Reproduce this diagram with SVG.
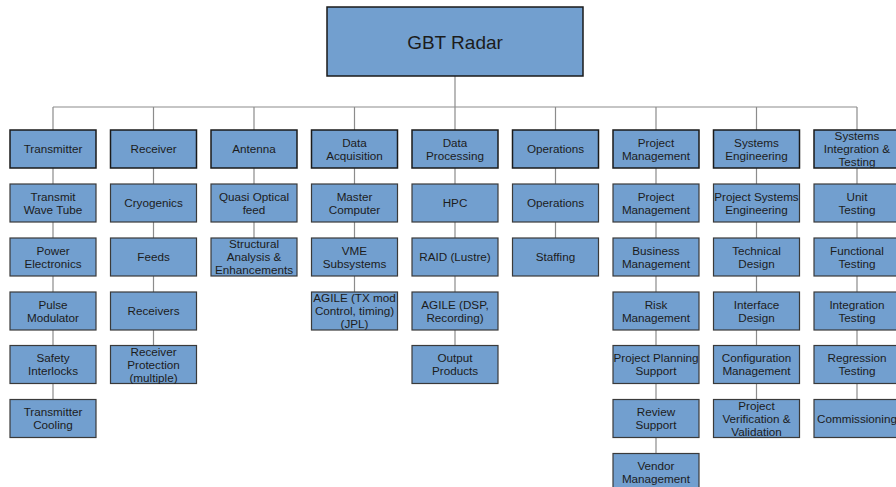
<svg xmlns="http://www.w3.org/2000/svg" width="896" height="487" viewBox="0 0 896 487">
<style>
.b{fill:#729fcf;stroke:#3a3a3a;stroke-width:1.2}
.h{fill:#729fcf;stroke:#1a1a1a;stroke-width:1.5}
text{font-family:"Liberation Sans",Arial,sans-serif;font-size:11.7px;fill:#1c1c1c;text-anchor:middle}
.r{font-size:19px}
.c{fill:none;stroke:#8c8c8c;stroke-width:1.2}
</style>
<rect width="896" height="487" fill="#fff"/>
<g id="connectors" class="c">
<path d="M455 76V107M53 107H857"/>
<path d="M53 107V399.5M153.5 107V345.5M254 107V238M354.5 107V292M455 107V345.5M555.5 107V238M656 107V453.5M756.5 107V399.5M857 107V399.5"/>
</g>
<g id="root"><rect class="h" x="327" y="7" width="256" height="69"/><text class="r" x="455" y="48.5">GBT Radar</text></g>

<g id="transmitter"><rect class="h" x="10" y="130" width="86" height="38"/><text x="53" y="153.2">Transmitter</text></g>
<g id="transmit-wave-tube"><rect class="b" x="10" y="184" width="86" height="38"/><text x="53" y="200.8">Transmit</text><text x="53" y="213.6">Wave Tube</text></g>
<g id="power-electronics"><rect class="b" x="10" y="238" width="86" height="38"/><text x="53" y="254.8">Power</text><text x="53" y="267.6">Electronics</text></g>
<g id="pulse-modulator"><rect class="b" x="10" y="292" width="86" height="38"/><text x="53" y="308.8">Pulse</text><text x="53" y="321.6">Modulator</text></g>
<g id="safety-interlocks"><rect class="b" x="10" y="345.5" width="86" height="38"/><text x="53" y="362.3">Safety</text><text x="53" y="375.1">Interlocks</text></g>
<g id="transmitter-cooling"><rect class="b" x="10" y="399.5" width="86" height="38"/><text x="53" y="416.3">Transmitter</text><text x="53" y="429.1">Cooling</text></g>

<g id="receiver"><rect class="h" x="110.5" y="130" width="86" height="38"/><text x="153.5" y="153.2">Receiver</text></g>
<g id="cryogenics"><rect class="b" x="110.5" y="184" width="86" height="38"/><text x="153.5" y="207.2">Cryogenics</text></g>
<g id="feeds"><rect class="b" x="110.5" y="238" width="86" height="38"/><text x="153.5" y="261.2">Feeds</text></g>
<g id="receivers"><rect class="b" x="110.5" y="292" width="86" height="38"/><text x="153.5" y="315.2">Receivers</text></g>
<g id="receiver-protection"><rect class="b" x="110.5" y="345.5" width="86" height="38"/><text x="153.5" y="355.9">Receiver</text><text x="153.5" y="368.7">Protection</text><text x="153.5" y="381.5">(multiple)</text></g>

<g id="antenna"><rect class="h" x="211" y="130" width="86" height="38"/><text x="254" y="153.2">Antenna</text></g>
<g id="quasi-optical-feed"><rect class="b" x="211" y="184" width="86" height="38"/><text x="254" y="200.8">Quasi Optical</text><text x="254" y="213.6">feed</text></g>
<g id="structural-analysis"><rect class="b" x="211" y="238" width="86" height="38"/><text x="254" y="248.4">Structural</text><text x="254" y="261.2">Analysis &amp;</text><text x="254" y="274">Enhancements</text></g>

<g id="data-acquisition"><rect class="h" x="311.5" y="130" width="86" height="38"/><text x="354.5" y="146.8">Data</text><text x="354.5" y="159.6">Acquisition</text></g>
<g id="master-computer"><rect class="b" x="311.5" y="184" width="86" height="38"/><text x="354.5" y="200.8">Master</text><text x="354.5" y="213.6">Computer</text></g>
<g id="vme-subsystems"><rect class="b" x="311.5" y="238" width="86" height="38"/><text x="354.5" y="254.8">VME</text><text x="354.5" y="267.6">Subsystems</text></g>
<g id="agile-tx"><rect class="b" x="311.5" y="292" width="86" height="38"/><text x="354.5" y="302.4">AGILE (TX mod</text><text x="354.5" y="315.2">Control, timing)</text><text x="354.5" y="328">(JPL)</text></g>

<g id="data-processing"><rect class="h" x="412" y="130" width="86" height="38"/><text x="455" y="146.8">Data</text><text x="455" y="159.6">Processing</text></g>
<g id="hpc"><rect class="b" x="412" y="184" width="86" height="38"/><text x="455" y="207.2">HPC</text></g>
<g id="raid"><rect class="b" x="412" y="238" width="86" height="38"/><text x="455" y="261.2">RAID (Lustre)</text></g>
<g id="agile-dsp"><rect class="b" x="412" y="292" width="86" height="38"/><text x="455" y="308.8">AGILE (DSP,</text><text x="455" y="321.6">Recording)</text></g>
<g id="output-products"><rect class="b" x="412" y="345.5" width="86" height="38"/><text x="455" y="362.3">Output</text><text x="455" y="375.1">Products</text></g>

<g id="operations"><rect class="h" x="512.5" y="130" width="86" height="38"/><text x="555.5" y="153.2">Operations</text></g>
<g id="operations-2"><rect class="b" x="512.5" y="184" width="86" height="38"/><text x="555.5" y="207.2">Operations</text></g>
<g id="staffing"><rect class="b" x="512.5" y="238" width="86" height="38"/><text x="555.5" y="261.2">Staffing</text></g>

<g id="project-management"><rect class="h" x="613" y="130" width="86" height="38"/><text x="656" y="146.8">Project</text><text x="656" y="159.6">Management</text></g>
<g id="project-management-2"><rect class="b" x="613" y="184" width="86" height="38"/><text x="656" y="200.8">Project</text><text x="656" y="213.6">Management</text></g>
<g id="business-management"><rect class="b" x="613" y="238" width="86" height="38"/><text x="656" y="254.8">Business</text><text x="656" y="267.6">Management</text></g>
<g id="risk-management"><rect class="b" x="613" y="292" width="86" height="38"/><text x="656" y="308.8">Risk</text><text x="656" y="321.6">Management</text></g>
<g id="project-planning"><rect class="b" x="613" y="345.5" width="86" height="38"/><text x="656" y="362.3">Project Planning</text><text x="656" y="375.1">Support</text></g>
<g id="review-support"><rect class="b" x="613" y="399.5" width="86" height="38"/><text x="656" y="416.3">Review</text><text x="656" y="429.1">Support</text></g>
<g id="vendor-management"><rect class="b" x="613" y="453.5" width="86" height="38"/><text x="656" y="470.3">Vendor</text><text x="656" y="483.1">Management</text></g>

<g id="systems-engineering"><rect class="h" x="713.5" y="130" width="86" height="38"/><text x="756.5" y="146.8">Systems</text><text x="756.5" y="159.6">Engineering</text></g>
<g id="project-systems-engineering"><rect class="b" x="713.5" y="184" width="86" height="38"/><text x="756.5" y="200.8">Project Systems</text><text x="756.5" y="213.6">Engineering</text></g>
<g id="technical-design"><rect class="b" x="713.5" y="238" width="86" height="38"/><text x="756.5" y="254.8">Technical</text><text x="756.5" y="267.6">Design</text></g>
<g id="interface-design"><rect class="b" x="713.5" y="292" width="86" height="38"/><text x="756.5" y="308.8">Interface</text><text x="756.5" y="321.6">Design</text></g>
<g id="configuration-management"><rect class="b" x="713.5" y="345.5" width="86" height="38"/><text x="756.5" y="362.3">Configuration</text><text x="756.5" y="375.1">Management</text></g>
<g id="project-verification"><rect class="b" x="713.5" y="399.5" width="86" height="38"/><text x="756.5" y="409.9">Project</text><text x="756.5" y="422.7">Verification &amp;</text><text x="756.5" y="435.5">Validation</text></g>

<g id="systems-integration-testing"><rect class="h" x="814" y="130" width="86" height="38"/><text x="857" y="140.4">Systems</text><text x="857" y="153.2">Integration &amp;</text><text x="857" y="166">Testing</text></g>
<g id="unit-testing"><rect class="b" x="814" y="184" width="86" height="38"/><text x="857" y="200.8">Unit</text><text x="857" y="213.6">Testing</text></g>
<g id="functional-testing"><rect class="b" x="814" y="238" width="86" height="38"/><text x="857" y="254.8">Functional</text><text x="857" y="267.6">Testing</text></g>
<g id="integration-testing"><rect class="b" x="814" y="292" width="86" height="38"/><text x="857" y="308.8">Integration</text><text x="857" y="321.6">Testing</text></g>
<g id="regression-testing"><rect class="b" x="814" y="345.5" width="86" height="38"/><text x="857" y="362.3">Regression</text><text x="857" y="375.1">Testing</text></g>
<g id="commissioning"><rect class="b" x="814" y="399.5" width="86" height="38"/><text x="857" y="422.7">Commissioning</text></g>
</svg>
